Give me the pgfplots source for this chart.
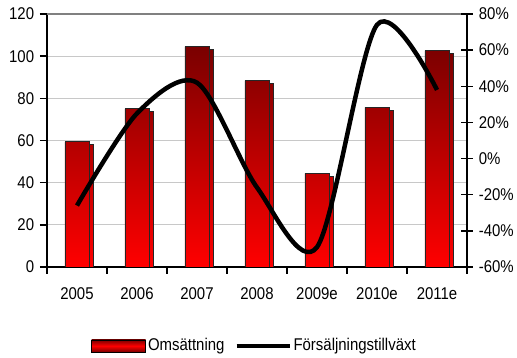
\documentclass[border=0pt]{standalone}
\usepackage{fontspec}
\setmainfont{Liberation Sans}[FakeStretch=0.88]
\usepackage{pgfplots}
\pgfplotsset{compat=1.18}
\usetikzlibrary{shadows}
\definecolor{barTop}{HTML}{7A0000}
\definecolor{barBot}{HTML}{FF0000}
\definecolor{gridc}{HTML}{C8C8C8}
\begin{document}
\fontsize{17pt}{20pt}\selectfont
\begin{tikzpicture}
\useasboundingbox (-47pt,-91pt) rectangle (470pt,267pt);
\begin{axis}[
  at={(0,0)}, anchor=south west,
  scale only axis, width=420pt, height=253pt,
  xmin=-0.5, xmax=6.5, ymin=0, ymax=120,
  axis x line=bottom, axis y line=left,
  axis line style={-, line width=1.5pt, black},
  xtick={-0.5,0.5,...,6.5},
  xticklabels={2005,2006,2007,2008,2009e,2010e,2011e},
  x tick label as interval,
  xticklabel style={yshift=-8pt},
  ytick={0,20,...,120},
  tick align=outside, major tick length=7pt,
  tick style={black, line width=1.5pt},
  ymajorgrids, major grid style={gridc, line width=1.2pt},
  extra y ticks={120}, extra y tick labels={},
  extra y tick style={major grid style={black!50, line width=1.2pt}},
  /pgf/number format/assume math mode=true,
  tick label style={font=\fontsize{17pt}{20pt}\selectfont},
]
\addplot[ybar, bar width=24pt, draw=black!85, line width=0.8pt,
  top color=barTop, bottom color=barBot,
  drop shadow={shadow xshift=4pt, shadow yshift=-3pt, opacity=1, fill=black}]
  coordinates {(0,59.4) (1,75) (2,104.5) (3,88.4) (4,44.4) (5,75.7) (6,102.6)};
\end{axis}
\begin{axis}[
  at={(0,0)}, anchor=south west,
  scale only axis, width=420pt, height=253pt,
  xmin=-0.5, xmax=6.5, ymin=-60, ymax=80,
  axis x line=none, axis y line=right,
  axis line style={-, line width=1.5pt, black},
  ytick={-60,-40,...,80},
  yticklabel={\pgfmathprintnumber[assume math mode=true]{\tick}\%},
  tick align=center, major tick length=12pt,
  tick style={black, line width=1.5pt},
  tick label style={font=\fontsize{17pt}{20pt}\selectfont},
  legend style={at={(0.494,-0.312)}, anchor=center, draw=none, fill=none,
    legend columns=2, font=\fontsize{17pt}{20pt}\selectfont,
    /tikz/every even column/.append style={column sep=8pt}},
]
\addlegendimage{legend image code/.code={\draw[black, line width=0.8pt, top color=barTop, bottom color=barTop, middle color=barBot] (0pt,-6pt) rectangle (54pt,6pt);}}
\addlegendentry{Omsättning}
\addplot[black, line width=4.5pt, smooth,
  legend image code/.code={\draw[black, line width=4pt] (0pt,0pt) -- (53pt,0pt);}]
  coordinates {(0,-26) (1,25) (2,42) (3,-16) (4,-49) (5,74) (6,38)};
\addlegendentry{Försäljningstillväxt}
\end{axis}
\end{tikzpicture}
\end{document}
